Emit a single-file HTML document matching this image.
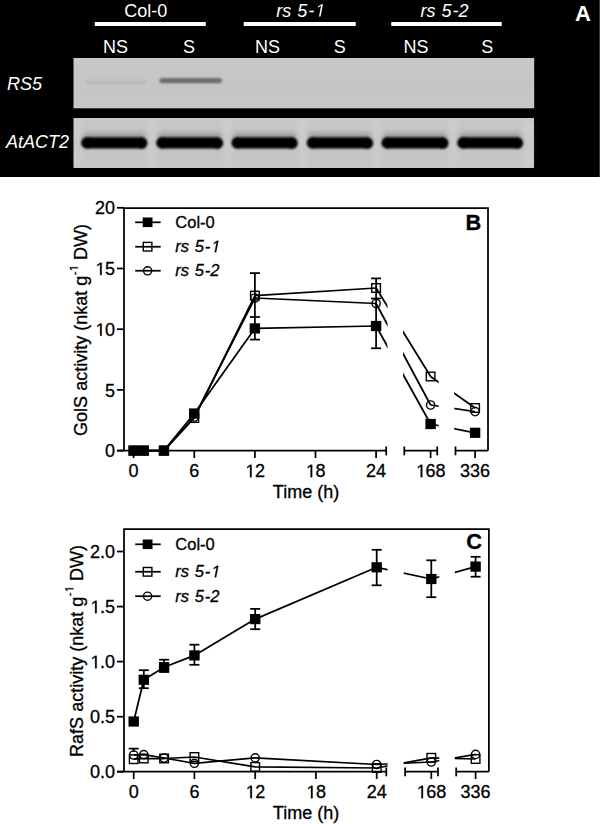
<!DOCTYPE html>
<html><head><meta charset="utf-8"><title>Figure</title>
<style>
html,body{margin:0;padding:0;background:#fff;}
svg{display:block;}
text{font-family:"Liberation Sans", sans-serif;}
.c text{stroke:#000;stroke-width:0.3px;}
.c text .o{stroke-opacity:0;}
.o{fill-opacity:0;}
</style></head><body>
<svg width="600" height="824" viewBox="0 0 600 824">
<defs>
<linearGradient id="gelg" x1="0" y1="0" x2="0" y2="1">
<stop offset="0" stop-color="#c9c9c9"/><stop offset="0.5" stop-color="#c5c5c5"/><stop offset="1" stop-color="#c7c7c7"/></linearGradient>
<linearGradient id="gelg2" x1="0" y1="0" x2="0" y2="1">
<stop offset="0" stop-color="#c9c9c9"/><stop offset="0.5" stop-color="#c3c3c3"/><stop offset="1" stop-color="#c7c7c7"/></linearGradient>
<filter id="bl1" x="-10%" y="-100%" width="120%" height="300%"><feGaussianBlur stdDeviation="0.8"/></filter>
<filter id="bl2" x="-10%" y="-100%" width="120%" height="300%"><feGaussianBlur stdDeviation="2.5"/></filter>
<clipPath id="cBa"><rect x="0" y="0" width="387.5" height="824"/><rect x="403" y="0" width="35.5" height="824"/></clipPath>
<clipPath id="cBb"><rect x="0" y="0" width="438.7" height="824"/><rect x="454.2" y="0" width="40" height="824"/></clipPath>
<clipPath id="cCa"><rect x="0" y="0" width="387.6" height="824"/><rect x="403.7" y="0" width="35.5" height="824"/></clipPath>
<clipPath id="cCb"><rect x="0" y="0" width="439.3" height="824"/><rect x="454.8" y="0" width="40" height="824"/></clipPath>
</defs>
<rect x="0" y="0" width="600" height="177" fill="#000"/>
<rect x="599" y="0" width="1" height="177" fill="#3a3a3a"/>
<rect x="73.5" y="58" width="460.7" height="50.3" fill="url(#gelg)"/>
<rect x="73.5" y="118" width="460.5" height="50" fill="url(#gelg2)"/>
<g filter="url(#bl1)">
<rect x="85.5" y="80.3" width="61" height="4" rx="2" fill="#b8b8b8"/>
<rect x="159.5" y="77.9" width="62.5" height="5.4" rx="2.7" fill="#6c6c6c"/>
</g>
<g filter="url(#bl2)">
<rect x="74.5" y="121" width="5.6" height="45" fill="#fff" opacity="0.13"/>
<rect x="148.5" y="121" width="6.7" height="45" fill="#fff" opacity="0.13"/>
<rect x="224.2" y="121" width="6.2" height="45" fill="#fff" opacity="0.13"/>
<rect x="298.8" y="121" width="6.9" height="45" fill="#fff" opacity="0.13"/>
<rect x="374.2" y="121" width="6.2" height="45" fill="#fff" opacity="0.13"/>
<rect x="449.6" y="121" width="6.6" height="45" fill="#fff" opacity="0.13"/>
<rect x="524.2" y="121" width="9.3" height="45" fill="#fff" opacity="0.13"/>
<rect x="82.6" y="132.5" width="63.4" height="9" rx="4" fill="#808080" opacity="0.55"/>
<rect x="157.7" y="132.5" width="64.0" height="9" rx="4" fill="#808080" opacity="0.55"/>
<rect x="232.9" y="132.5" width="63.4" height="9" rx="4" fill="#808080" opacity="0.55"/>
<rect x="308.2" y="132.5" width="63.5" height="9" rx="4" fill="#808080" opacity="0.55"/>
<rect x="382.9" y="132.5" width="64.2" height="9" rx="4" fill="#808080" opacity="0.55"/>
<rect x="458.7" y="132.5" width="63.0" height="9" rx="4" fill="#808080" opacity="0.55"/>
</g>
<g filter="url(#bl1)">
<rect x="81.6" y="137.3" width="65.4" height="11.2" rx="5.6" fill="#030303"/>
<ellipse cx="87.1" cy="142.9" rx="6" ry="5.9" fill="#030303"/>
<ellipse cx="141.5" cy="143.1" rx="6" ry="5.9" fill="#030303"/>
<rect x="156.7" y="137.3" width="66.0" height="11.2" rx="5.6" fill="#030303"/>
<ellipse cx="162.2" cy="142.9" rx="6" ry="5.9" fill="#030303"/>
<ellipse cx="217.2" cy="143.1" rx="6" ry="5.9" fill="#030303"/>
<rect x="231.9" y="137.3" width="65.4" height="11.2" rx="5.6" fill="#030303"/>
<ellipse cx="237.4" cy="142.9" rx="6" ry="5.9" fill="#030303"/>
<ellipse cx="291.8" cy="143.1" rx="6" ry="5.9" fill="#030303"/>
<rect x="307.2" y="137.3" width="65.5" height="11.2" rx="5.6" fill="#030303"/>
<ellipse cx="312.7" cy="142.9" rx="6" ry="5.9" fill="#030303"/>
<ellipse cx="367.2" cy="143.1" rx="6" ry="5.9" fill="#030303"/>
<rect x="381.9" y="137.3" width="66.2" height="11.2" rx="5.6" fill="#030303"/>
<ellipse cx="387.4" cy="142.9" rx="6" ry="5.9" fill="#030303"/>
<ellipse cx="442.6" cy="143.1" rx="6" ry="5.9" fill="#030303"/>
<rect x="457.7" y="137.3" width="65.0" height="11.2" rx="5.6" fill="#030303"/>
<ellipse cx="463.2" cy="142.9" rx="6" ry="5.9" fill="#030303"/>
<ellipse cx="517.2" cy="143.1" rx="6" ry="5.9" fill="#030303"/>
</g>
<rect x="94.8" y="22" width="111.00" height="4" fill="#fff"/>
<rect x="243.75" y="22" width="112.00" height="4" fill="#fff"/>
<rect x="391.25" y="22" width="110.50" height="4" fill="#fff"/>
<text x="145.7" y="16.6" font-size="18" fill="#fff" text-anchor="middle">Col-0</text>
<text x="300.2" y="16.6" font-size="18" fill="#fff" text-anchor="middle" font-style="italic" word-spacing="1">rs 5<tspan dx="1">-</tspan><tspan class="o">1</tspan></text>
<text x="444.6" y="16.6" font-size="18" fill="#fff" text-anchor="middle" font-style="italic" word-spacing="1">rs 5<tspan dx="1">-</tspan>2</text>
<text x="115.4" y="52.7" font-size="18" fill="#fff" text-anchor="middle">NS</text>
<text x="189.1" y="52.7" font-size="18" fill="#fff" text-anchor="middle">S</text>
<text x="267.5" y="52.7" font-size="18" fill="#fff" text-anchor="middle">NS</text>
<text x="339.7" y="52.7" font-size="18" fill="#fff" text-anchor="middle">S</text>
<text x="416" y="52.7" font-size="18" fill="#fff" text-anchor="middle">NS</text>
<text x="487.2" y="52.7" font-size="18" fill="#fff" text-anchor="middle">S</text>
<text x="7" y="90.2" font-size="18" fill="#fff" font-style="italic">RS5</text>
<text x="6" y="147.7" font-size="18" fill="#fff" font-style="italic">AtACT2</text>
<text x="575" y="20.7" font-size="22" fill="#fff" font-weight="bold">A</text>
<g class="c">
<path d="M124 450.7 V208 H488.0 V450.7" fill="none" stroke="#000" stroke-width="1.75"/>
<path d="M117 450.7 H386.2 M404.3 450.7 H437.2 M455.5 450.7 H488.0" fill="none" stroke="#000" stroke-width="1.75"/>
<path d="M386.2 446.5 V455.3" stroke="#000" stroke-width="1.75"/>
<path d="M404.3 446.5 V455.3" stroke="#000" stroke-width="1.75"/>
<path d="M437.2 446.5 V455.3" stroke="#000" stroke-width="1.75"/>
<path d="M455.5 446.5 V455.3" stroke="#000" stroke-width="1.75"/>
<path d="M133.6 450.7 V458.0" stroke="#000" stroke-width="1.75"/>
<text x="133.6" y="477.2" font-size="18" text-anchor="middle">0</text>
<path d="M194.3 450.7 V458.0" stroke="#000" stroke-width="1.75"/>
<text x="194.3" y="477.2" font-size="18" text-anchor="middle">6</text>
<path d="M254.9 450.7 V458.0" stroke="#000" stroke-width="1.75"/>
<text x="254.9" y="477.2" font-size="18" text-anchor="middle"><tspan class="o">1</tspan>2</text>
<path d="M315.5 450.7 V458.0" stroke="#000" stroke-width="1.75"/>
<text x="315.5" y="477.2" font-size="18" text-anchor="middle"><tspan class="o">1</tspan>8</text>
<path d="M376.1 450.7 V458.0" stroke="#000" stroke-width="1.75"/>
<text x="376.1" y="477.2" font-size="18" text-anchor="middle">24</text>
<path d="M430.6 450.7 V458.0" stroke="#000" stroke-width="1.75"/>
<text x="430.6" y="477.2" font-size="18" text-anchor="middle"><tspan class="o">1</tspan>68</text>
<path d="M475.1 450.7 V458.0" stroke="#000" stroke-width="1.75"/>
<text x="475.1" y="477.2" font-size="18" text-anchor="middle">336</text>
<text x="306" y="498.3" font-size="18" text-anchor="middle">Time (h)</text>
<path d="M117 450.6 H124" stroke="#000" stroke-width="1.75"/>
<text x="115" y="457.2" font-size="18" text-anchor="end">0</text>
<path d="M117 389.9 H124" stroke="#000" stroke-width="1.75"/>
<text x="115" y="396.5" font-size="18" text-anchor="end">5</text>
<path d="M117 329.2 H124" stroke="#000" stroke-width="1.75"/>
<text x="115" y="335.8" font-size="18" text-anchor="end"><tspan class="o">1</tspan>0</text>
<path d="M117 268.5 H124" stroke="#000" stroke-width="1.75"/>
<text x="115" y="275.1" font-size="18" text-anchor="end"><tspan class="o">1</tspan>5</text>
<path d="M117 207.8 H124" stroke="#000" stroke-width="1.75"/>
<text x="115" y="214.4" font-size="18" text-anchor="end">20</text>
<text transform="translate(87.3,330) rotate(-90)" font-size="18" text-anchor="middle">GolS activity (nkat g<tspan font-size="11.5" dy="-9.5" dx="0.5">-<tspan class="o">1</tspan></tspan><tspan dy="9.5"> DW)</tspan></text>
<text x="465.4" y="230.1" font-size="21.8" font-weight="bold">B</text>
<path d="M135.2 222.3 H160.7" stroke="#000" stroke-width="1.75"/>
<rect x="142.70" y="217.50" width="9.8" height="9.6" fill="#000"/>
<text x="175.3" y="227.8" font-size="16.5" word-spacing="1">Col-0</text>
<path d="M135.2 246.75 H160.7" stroke="#000" stroke-width="1.75"/>
<rect x="143.3" y="242.4" width="8.6" height="8.6" fill="none" stroke="#000" stroke-width="1.4"/>
<text x="175.3" y="252.2" font-size="16.5" word-spacing="1" font-style="italic">rs 5<tspan dx="1">-</tspan><tspan class="o">1</tspan></text>
<path d="M135.2 270.75 H160.7" stroke="#000" stroke-width="1.75"/>
<circle cx="147.6" cy="270.8" r="4.1" fill="none" stroke="#000" stroke-width="1.4"/>
<text x="175.3" y="276.2" font-size="16.5" word-spacing="1" font-style="italic">rs 5<tspan dx="1">-</tspan>2</text>
<path d="M254.9 273.1 V339.6" stroke="#000" stroke-width="1.75"/>
<path d="M249.9 273.1 H259.9" stroke="#000" stroke-width="1.75"/>
<path d="M249.9 317.0 H259.9" stroke="#000" stroke-width="1.75"/>
<path d="M249.9 339.6 H259.9" stroke="#000" stroke-width="1.75"/>
<path d="M376.1 278.4 V348.3" stroke="#000" stroke-width="1.75"/>
<path d="M371.1 278.4 H381.1" stroke="#000" stroke-width="1.75"/>
<path d="M371.1 298.5 H381.1" stroke="#000" stroke-width="1.75"/>
<path d="M371.1 348.3 H381.1" stroke="#000" stroke-width="1.75"/>
<path d="M133.6 450.6 L143.7 450.6 L163.9 450.6 L194.3 418.0 L254.9 295.6 L376.1 288.0" fill="none" stroke="#000" stroke-width="1.75" stroke-linejoin="round"/>
<path d="M376.1 288.0 L430.6 376.5" fill="none" stroke="#000" stroke-width="1.75" clip-path="url(#cBa)"/>
<path d="M430.6 376.5 L475.1 408.0" fill="none" stroke="#000" stroke-width="1.75" clip-path="url(#cBb)"/>
<rect x="129.3" y="446.3" width="8.6" height="8.6" fill="none" stroke="#000" stroke-width="1.4"/>
<rect x="139.4" y="446.3" width="8.6" height="8.6" fill="none" stroke="#000" stroke-width="1.4"/>
<rect x="159.6" y="446.3" width="8.6" height="8.6" fill="none" stroke="#000" stroke-width="1.4"/>
<rect x="190.0" y="413.7" width="8.6" height="8.6" fill="none" stroke="#000" stroke-width="1.4"/>
<rect x="250.6" y="291.3" width="8.6" height="8.6" fill="none" stroke="#000" stroke-width="1.4"/>
<rect x="371.8" y="283.7" width="8.6" height="8.6" fill="none" stroke="#000" stroke-width="1.4"/>
<rect x="426.3" y="372.2" width="8.6" height="8.6" fill="none" stroke="#000" stroke-width="1.4"/>
<rect x="470.8" y="403.7" width="8.6" height="8.6" fill="none" stroke="#000" stroke-width="1.4"/>
<path d="M133.6 450.6 L143.7 450.6 L163.9 450.6 L194.3 417.0 L254.9 298.0 L376.1 303.5" fill="none" stroke="#000" stroke-width="1.75" stroke-linejoin="round"/>
<path d="M376.1 303.5 L430.6 405.0" fill="none" stroke="#000" stroke-width="1.75" clip-path="url(#cBa)"/>
<path d="M430.6 405.0 L475.1 411.6" fill="none" stroke="#000" stroke-width="1.75" clip-path="url(#cBb)"/>
<circle cx="133.6" cy="450.6" r="4.1" fill="none" stroke="#000" stroke-width="1.4"/>
<circle cx="143.7" cy="450.6" r="4.1" fill="none" stroke="#000" stroke-width="1.4"/>
<circle cx="163.9" cy="450.6" r="4.1" fill="none" stroke="#000" stroke-width="1.4"/>
<circle cx="194.3" cy="417.0" r="4.1" fill="none" stroke="#000" stroke-width="1.4"/>
<circle cx="254.9" cy="298.0" r="4.1" fill="none" stroke="#000" stroke-width="1.4"/>
<circle cx="376.1" cy="303.5" r="4.1" fill="none" stroke="#000" stroke-width="1.4"/>
<circle cx="430.6" cy="405.0" r="4.1" fill="none" stroke="#000" stroke-width="1.4"/>
<circle cx="475.1" cy="411.6" r="4.1" fill="none" stroke="#000" stroke-width="1.4"/>
<path d="M133.6 450.6 L143.7 450.6 L163.9 450.6 L194.3 413.5 L254.9 328.4 L376.1 326.0" fill="none" stroke="#000" stroke-width="1.75" stroke-linejoin="round"/>
<path d="M376.1 326.0 L430.6 424.0" fill="none" stroke="#000" stroke-width="1.75" clip-path="url(#cBa)"/>
<path d="M430.6 424.0 L475.1 432.8" fill="none" stroke="#000" stroke-width="1.75" clip-path="url(#cBb)"/>
<rect x="128.44" y="445.50" width="10.4" height="10.2" fill="#000"/>
<rect x="138.54" y="445.50" width="10.4" height="10.2" fill="#000"/>
<rect x="158.75" y="445.50" width="10.4" height="10.2" fill="#000"/>
<rect x="189.06" y="408.40" width="10.4" height="10.2" fill="#000"/>
<rect x="249.68" y="323.30" width="10.4" height="10.2" fill="#000"/>
<rect x="370.91" y="320.90" width="10.4" height="10.2" fill="#000"/>
<rect x="425.40" y="418.90" width="10.4" height="10.2" fill="#000"/>
<rect x="469.90" y="427.70" width="10.4" height="10.2" fill="#000"/>
<path d="M124 771.7 V529 H488.9 V771.7" fill="none" stroke="#000" stroke-width="1.75"/>
<path d="M117 771.7 H386.3 M405.1 771.7 H438.0 M456.2 771.7 H488.9" fill="none" stroke="#000" stroke-width="1.75"/>
<path d="M386.3 767.5 V776.3000000000001" stroke="#000" stroke-width="1.75"/>
<path d="M405.1 767.5 V776.3000000000001" stroke="#000" stroke-width="1.75"/>
<path d="M438.0 767.5 V776.3000000000001" stroke="#000" stroke-width="1.75"/>
<path d="M456.2 767.5 V776.3000000000001" stroke="#000" stroke-width="1.75"/>
<path d="M133.7 771.7 V779.0" stroke="#000" stroke-width="1.75"/>
<text x="133.7" y="798.2" font-size="18" text-anchor="middle">0</text>
<path d="M194.4 771.7 V779.0" stroke="#000" stroke-width="1.75"/>
<text x="194.4" y="798.2" font-size="18" text-anchor="middle">6</text>
<path d="M255.2 771.7 V779.0" stroke="#000" stroke-width="1.75"/>
<text x="255.2" y="798.2" font-size="18" text-anchor="middle"><tspan class="o">1</tspan>2</text>
<path d="M315.9 771.7 V779.0" stroke="#000" stroke-width="1.75"/>
<text x="315.9" y="798.2" font-size="18" text-anchor="middle"><tspan class="o">1</tspan>8</text>
<path d="M376.7 771.7 V779.0" stroke="#000" stroke-width="1.75"/>
<text x="376.7" y="798.2" font-size="18" text-anchor="middle">24</text>
<path d="M431.3 771.7 V779.0" stroke="#000" stroke-width="1.75"/>
<text x="431.3" y="798.2" font-size="18" text-anchor="middle"><tspan class="o">1</tspan>68</text>
<path d="M475.6 771.7 V779.0" stroke="#000" stroke-width="1.75"/>
<text x="475.6" y="798.2" font-size="18" text-anchor="middle">336</text>
<text x="306" y="819.3" font-size="18" text-anchor="middle">Time (h)</text>
<path d="M117 771.7 H124" stroke="#000" stroke-width="1.75"/>
<text x="115" y="778.3" font-size="18" text-anchor="end">0.0</text>
<path d="M117 716.7 H124" stroke="#000" stroke-width="1.75"/>
<text x="115" y="723.3" font-size="18" text-anchor="end">0.5</text>
<path d="M117 661.6 H124" stroke="#000" stroke-width="1.75"/>
<text x="115" y="668.2" font-size="18" text-anchor="end"><tspan class="o">1</tspan>.0</text>
<path d="M117 606.6 H124" stroke="#000" stroke-width="1.75"/>
<text x="115" y="613.2" font-size="18" text-anchor="end"><tspan class="o">1</tspan>.5</text>
<path d="M117 551.5 H124" stroke="#000" stroke-width="1.75"/>
<text x="115" y="558.1" font-size="18" text-anchor="end">2.0</text>
<text transform="translate(82.8,651) rotate(-90)" font-size="18" text-anchor="middle">RafS activity (nkat g<tspan font-size="11.5" dy="-9.5" dx="0.5">-<tspan class="o">1</tspan></tspan><tspan dy="9.5"> DW)</tspan></text>
<text x="466.2" y="549.3" font-size="21.8" font-weight="bold">C</text>
<path d="M135.2 544.3 H160.7" stroke="#000" stroke-width="1.75"/>
<rect x="142.70" y="539.50" width="9.8" height="9.6" fill="#000"/>
<text x="175.3" y="549.8" font-size="16.5" word-spacing="1">Col-0</text>
<path d="M135.2 571.75 H160.7" stroke="#000" stroke-width="1.75"/>
<rect x="143.3" y="567.5" width="8.6" height="8.6" fill="none" stroke="#000" stroke-width="1.4"/>
<text x="175.3" y="577.2" font-size="16.5" word-spacing="1" font-style="italic">rs 5<tspan dx="1">-</tspan><tspan class="o">1</tspan></text>
<path d="M135.2 596.2 H160.7" stroke="#000" stroke-width="1.75"/>
<circle cx="147.6" cy="596.2" r="4.1" fill="none" stroke="#000" stroke-width="1.4"/>
<text x="175.3" y="601.7" font-size="16.5" word-spacing="1" font-style="italic">rs 5<tspan dx="1">-</tspan>2</text>
<path d="M133.7 748.6 V752 M128.7 748.6 H138.7" stroke="#000" stroke-width="1.75" fill="none"/>
<path d="M143.8 670.2 V688.2" stroke="#000" stroke-width="1.75"/>
<path d="M138.8 670.2 H148.8" stroke="#000" stroke-width="1.75"/>
<path d="M138.8 688.2 H148.8" stroke="#000" stroke-width="1.75"/>
<path d="M164.1 659.7 V672.0" stroke="#000" stroke-width="1.75"/>
<path d="M159.1 659.7 H169.1" stroke="#000" stroke-width="1.75"/>
<path d="M159.1 672.0 H169.1" stroke="#000" stroke-width="1.75"/>
<path d="M194.4 644.7 V664.8" stroke="#000" stroke-width="1.75"/>
<path d="M189.4 644.7 H199.4" stroke="#000" stroke-width="1.75"/>
<path d="M189.4 664.8 H199.4" stroke="#000" stroke-width="1.75"/>
<path d="M255.2 608.9 V629.2" stroke="#000" stroke-width="1.75"/>
<path d="M250.2 608.9 H260.2" stroke="#000" stroke-width="1.75"/>
<path d="M250.2 629.2 H260.2" stroke="#000" stroke-width="1.75"/>
<path d="M376.7 549.8 V585.3" stroke="#000" stroke-width="1.75"/>
<path d="M371.7 549.8 H381.7" stroke="#000" stroke-width="1.75"/>
<path d="M371.7 585.3 H381.7" stroke="#000" stroke-width="1.75"/>
<path d="M431.3 560.3 V597.2" stroke="#000" stroke-width="1.75"/>
<path d="M426.3 560.3 H436.3" stroke="#000" stroke-width="1.75"/>
<path d="M426.3 597.2 H436.3" stroke="#000" stroke-width="1.75"/>
<path d="M475.6 556.8 V576.7" stroke="#000" stroke-width="1.75"/>
<path d="M470.6 556.8 H480.6" stroke="#000" stroke-width="1.75"/>
<path d="M470.6 576.7 H480.6" stroke="#000" stroke-width="1.75"/>
<path d="M133.7 759.2 L143.8 758.5 L164.1 758.5 L194.4 757.0 L255.2 766.9 L376.7 768.0" fill="none" stroke="#000" stroke-width="1.75" stroke-linejoin="round"/>
<path d="M376.7 768.0 L431.3 757.8" fill="none" stroke="#000" stroke-width="1.75" clip-path="url(#cCa)"/>
<path d="M431.3 757.8 L475.6 759.0" fill="none" stroke="#000" stroke-width="1.75" clip-path="url(#cCb)"/>
<rect x="129.4" y="754.9" width="8.6" height="8.6" fill="none" stroke="#000" stroke-width="1.4"/>
<rect x="139.5" y="754.2" width="8.6" height="8.6" fill="none" stroke="#000" stroke-width="1.4"/>
<rect x="159.8" y="754.2" width="8.6" height="8.6" fill="none" stroke="#000" stroke-width="1.4"/>
<rect x="190.1" y="752.7" width="8.6" height="8.6" fill="none" stroke="#000" stroke-width="1.4"/>
<rect x="250.9" y="762.6" width="8.6" height="8.6" fill="none" stroke="#000" stroke-width="1.4"/>
<rect x="372.4" y="763.7" width="8.6" height="8.6" fill="none" stroke="#000" stroke-width="1.4"/>
<rect x="427.0" y="753.5" width="8.6" height="8.6" fill="none" stroke="#000" stroke-width="1.4"/>
<rect x="471.3" y="754.7" width="8.6" height="8.6" fill="none" stroke="#000" stroke-width="1.4"/>
<path d="M133.7 755.0 L143.8 754.6 L164.1 758.0 L194.4 763.3 L255.2 757.8 L376.7 764.5" fill="none" stroke="#000" stroke-width="1.75" stroke-linejoin="round"/>
<path d="M376.7 764.5 L431.3 762.0" fill="none" stroke="#000" stroke-width="1.75" clip-path="url(#cCa)"/>
<path d="M431.3 762.0 L475.6 754.4" fill="none" stroke="#000" stroke-width="1.75" clip-path="url(#cCb)"/>
<circle cx="133.7" cy="755.0" r="4.1" fill="none" stroke="#000" stroke-width="1.4"/>
<circle cx="143.8" cy="754.6" r="4.1" fill="none" stroke="#000" stroke-width="1.4"/>
<circle cx="164.1" cy="758.0" r="4.1" fill="none" stroke="#000" stroke-width="1.4"/>
<circle cx="194.4" cy="763.3" r="4.1" fill="none" stroke="#000" stroke-width="1.4"/>
<circle cx="255.2" cy="757.8" r="4.1" fill="none" stroke="#000" stroke-width="1.4"/>
<circle cx="376.7" cy="764.5" r="4.1" fill="none" stroke="#000" stroke-width="1.4"/>
<circle cx="431.3" cy="762.0" r="4.1" fill="none" stroke="#000" stroke-width="1.4"/>
<circle cx="475.6" cy="754.4" r="4.1" fill="none" stroke="#000" stroke-width="1.4"/>
<path d="M133.7 721.5 L143.8 679.8 L164.1 667.2 L194.4 655.4 L255.2 619.1 L376.7 567.3" fill="none" stroke="#000" stroke-width="1.75" stroke-linejoin="round"/>
<path d="M376.7 567.3 L431.3 579.0" fill="none" stroke="#000" stroke-width="1.75" clip-path="url(#cCa)"/>
<path d="M431.3 579.0 L475.6 566.6" fill="none" stroke="#000" stroke-width="1.75" clip-path="url(#cCb)"/>
<rect x="128.50" y="716.40" width="10.4" height="10.2" fill="#000"/>
<rect x="138.62" y="674.70" width="10.4" height="10.2" fill="#000"/>
<rect x="158.88" y="662.10" width="10.4" height="10.2" fill="#000"/>
<rect x="189.25" y="650.30" width="10.4" height="10.2" fill="#000"/>
<rect x="250.00" y="614.00" width="10.4" height="10.2" fill="#000"/>
<rect x="371.50" y="562.20" width="10.4" height="10.2" fill="#000"/>
<rect x="426.10" y="573.90" width="10.4" height="10.2" fill="#000"/>
<rect x="470.40" y="561.50" width="10.4" height="10.2" fill="#000"/>
</g>
<path transform="translate(314.20,16.60) scale(0.00879,-0.00879)" d="M542 0L780 1223L419 1000L454 1180L831 1409L997 1409L723 0Z" fill="#fff"/>
<path transform="translate(244.88,477.20) scale(0.00879,-0.00879)" d="M583 0L583 1237L265 1010L265 1180L598 1409L764 1409L764 0Z" fill="#000" stroke="#000" stroke-width="0.3" vector-effect="non-scaling-stroke"/>
<path transform="translate(305.48,477.20) scale(0.00879,-0.00879)" d="M583 0L583 1237L265 1010L265 1180L598 1409L764 1409L764 0Z" fill="#000" stroke="#000" stroke-width="0.3" vector-effect="non-scaling-stroke"/>
<path transform="translate(415.58,477.20) scale(0.00879,-0.00879)" d="M583 0L583 1237L265 1010L265 1180L598 1409L764 1409L764 0Z" fill="#000" stroke="#000" stroke-width="0.3" vector-effect="non-scaling-stroke"/>
<path transform="translate(94.97,335.80) scale(0.00879,-0.00879)" d="M583 0L583 1237L265 1010L265 1180L598 1409L764 1409L764 0Z" fill="#000" stroke="#000" stroke-width="0.3" vector-effect="non-scaling-stroke"/>
<path transform="translate(94.97,275.10) scale(0.00879,-0.00879)" d="M583 0L583 1237L265 1010L265 1180L598 1409L764 1409L764 0Z" fill="#000" stroke="#000" stroke-width="0.3" vector-effect="non-scaling-stroke"/>
<path transform="translate(87.3,330) rotate(-90) translate(58.51,-9.50) scale(0.00562,-0.00562)" d="M583 0L583 1237L265 1010L265 1180L598 1409L764 1409L764 0Z" fill="#000" stroke="#000" stroke-width="0.3" vector-effect="non-scaling-stroke"/>
<path transform="translate(210.32,252.20) scale(0.00806,-0.00806)" d="M542 0L780 1223L419 1000L454 1180L831 1409L997 1409L723 0Z" fill="#000" stroke="#000" stroke-width="0.3" vector-effect="non-scaling-stroke"/>
<path transform="translate(245.18,798.20) scale(0.00879,-0.00879)" d="M583 0L583 1237L265 1010L265 1180L598 1409L764 1409L764 0Z" fill="#000" stroke="#000" stroke-width="0.3" vector-effect="non-scaling-stroke"/>
<path transform="translate(305.88,798.20) scale(0.00879,-0.00879)" d="M583 0L583 1237L265 1010L265 1180L598 1409L764 1409L764 0Z" fill="#000" stroke="#000" stroke-width="0.3" vector-effect="non-scaling-stroke"/>
<path transform="translate(416.28,798.20) scale(0.00879,-0.00879)" d="M583 0L583 1237L265 1010L265 1180L598 1409L764 1409L764 0Z" fill="#000" stroke="#000" stroke-width="0.3" vector-effect="non-scaling-stroke"/>
<path transform="translate(89.97,668.20) scale(0.00879,-0.00879)" d="M583 0L583 1237L265 1010L265 1180L598 1409L764 1409L764 0Z" fill="#000" stroke="#000" stroke-width="0.3" vector-effect="non-scaling-stroke"/>
<path transform="translate(89.97,613.20) scale(0.00879,-0.00879)" d="M583 0L583 1237L265 1010L265 1180L598 1409L764 1409L764 0Z" fill="#000" stroke="#000" stroke-width="0.3" vector-effect="non-scaling-stroke"/>
<path transform="translate(82.8,651) rotate(-90) translate(58.51,-9.50) scale(0.00562,-0.00562)" d="M583 0L583 1237L265 1010L265 1180L598 1409L764 1409L764 0Z" fill="#000" stroke="#000" stroke-width="0.3" vector-effect="non-scaling-stroke"/>
<path transform="translate(210.32,577.20) scale(0.00806,-0.00806)" d="M542 0L780 1223L419 1000L454 1180L831 1409L997 1409L723 0Z" fill="#000" stroke="#000" stroke-width="0.3" vector-effect="non-scaling-stroke"/>
</svg>
</body></html>
